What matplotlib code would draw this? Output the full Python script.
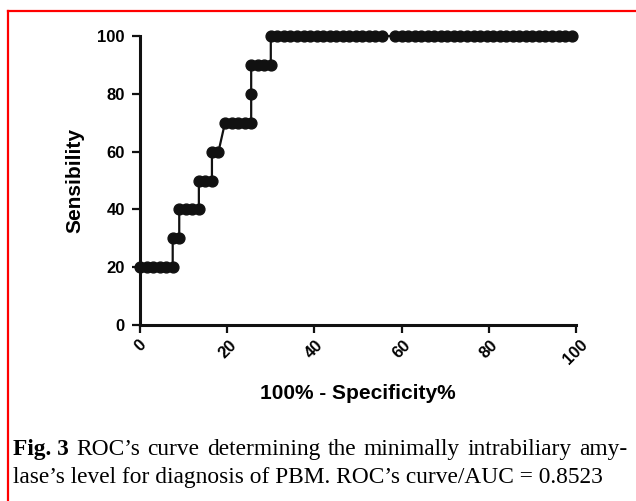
import matplotlib
matplotlib.use("Agg")
import matplotlib.pyplot as plt
from matplotlib.lines import Line2D

# ROC points, one row per sensitivity level (x = 100% - specificity%)
row_levels = [20, 30, 40, 50, 60, 70, 80, 90, 100]
row_x = [
    [0, 1.5, 3, 4.5, 6, 7.5],
    [7.5, 9],
    [9, 10.5, 12, 13.5],
    [13.5, 15, 16.5],
    [16.5, 18],
    [19.5, 21, 22.5, 24, 25.5],
    [25.5],
    [25.5, 27, 28.5, 30],
    [30, 31.5, 33, 34.5, 36, 37.5, 39, 40.5, 42, 43.5, 45, 46.5, 48, 49.5,
     51, 52.5, 54, 55.5,
     58.5, 60, 61.5, 63, 64.5, 66, 67.5, 69, 70.5, 72, 73.5, 75, 76.5, 78,
     79.5, 81, 82.5, 84, 85.5, 87, 88.5, 90, 91.5, 93, 94.5, 96, 97.5, 99],
]
x_ticks = [0, 20, 40, 60, 80, 100]
y_ticks = [0, 20, 40, 60, 80, 100]

caption_line1 = ["Fig. 3", "ROC\u2019s", "curve", "determining", "the", "minimally",
                 "intrabiliary", "amy-"]
caption_line2 = "lase\u2019s level for diagnosis of PBM. ROC\u2019s curve/AUC = 0.8523"

fpr = []
tpr = []
for level, xs in zip(row_levels, row_x):
    fpr += xs
    tpr += [level] * len(xs)

W, H = 636, 501
fig = plt.figure(figsize=(W / 100, H / 100), dpi=100)
plt.rcParams["font.family"] = ["Liberation Sans", "DejaVu Sans"]
serif = ["Liberation Serif", "DejaVu Serif"]

ax = fig.add_axes([140 / W, 1 - 325 / H, 436 / W, 289 / H])
ax.plot(fpr, tpr, color="#111111", lw=1.6, marker="o", markersize=7.8,
        clip_on=False, zorder=3)
ax.set_xlim(0, 100)
ax.set_ylim(0, 100)
ax.set_xticks(x_ticks)
ax.set_yticks(y_ticks)
ax.set_xticklabels([str(t) for t in x_ticks], rotation=45, fontweight="bold", fontsize=12)
ax.set_yticklabels([str(t) for t in y_ticks], fontweight="bold", fontsize=12)
for s in ["top", "right"]:
    ax.spines[s].set_visible(False)
for s in ["left", "bottom"]:
    ax.spines[s].set_linewidth(2.2)
    ax.spines[s].set_color("#111111")
ax.tick_params(width=1.6, length=6, color="#111111", pad=5)
ax.tick_params(axis="x", pad=3)
ax.set_xlabel("100% - Specificity%", fontweight="bold", fontsize=15, labelpad=12)
ax.set_ylabel("Sensibility", fontweight="bold", fontsize=15, labelpad=9)

# red frame (top and left edges)
fig.add_artist(Line2D([8 / W, 8 / W], [0, 1 - 11 / H], color="red", lw=1.6))
fig.add_artist(Line2D([8 / W, 1], [1 - 11 / H, 1 - 11 / H], color="red", lw=1.6))

# caption: size the second line to its width, justify the first line
fig.canvas.draw()
r = fig.canvas.get_renderer()
left, right, right2 = 13, 627, 604
line2 = fig.text(left / W, 1 - 483 / H, caption_line2, fontsize=13.5,
                 va="baseline", family=serif)
w2 = line2.get_window_extent(r).width
cap_size = 13.5 * (right2 - left) / w2
line2.set_fontsize(cap_size)

words = []
for i, w in enumerate(caption_line1):
    t = fig.text(0, 1 - 455 / H, w, fontsize=cap_size, va="baseline", family=serif,
                 fontweight="bold" if i == 0 else "normal")
    words.append(t)
widths = [t.get_window_extent(r).width for t in words]
gap = (right - left - sum(widths)) / (len(words) - 1)
x = left
for t, wd in zip(words, widths):
    t.set_x(x / W)
    x += wd + gap

fig.savefig("out.png", dpi=100)
